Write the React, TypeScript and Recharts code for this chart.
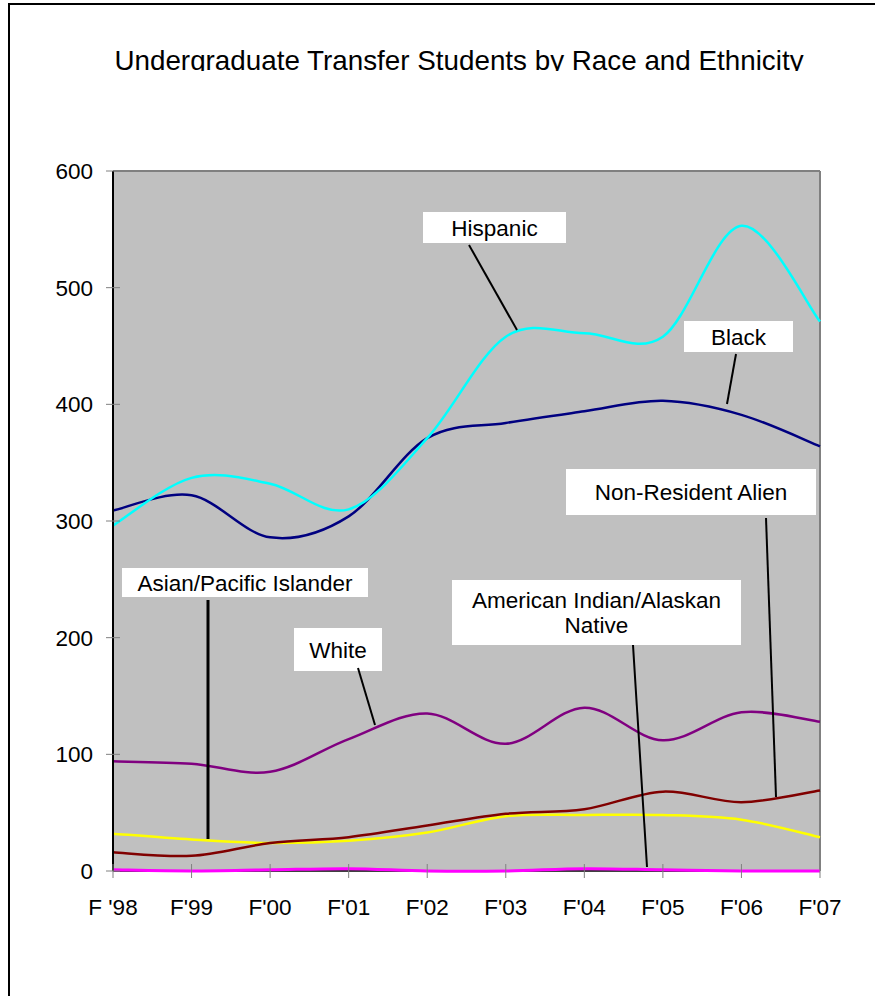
import React from 'react';
import { LineChart, Line, XAxis, YAxis, CartesianGrid, ReferenceLine } from 'recharts';

const years = ["F '98", "F'99", "F'00", "F'01", "F'02", "F'03", "F'04", "F'05", "F'06", "F'07"];
const hispanic = [296, 337, 332, 310, 371, 458, 461, 458, 553, 471];
const black = [309, 322, 286, 304, 371, 384, 394, 403, 391, 364];
const white = [94, 92, 85, 113, 135, 109, 140, 112, 136, 128];
const nonResidentAlien = [16, 13, 24, 29, 39, 49, 53, 68, 59, 69];
const asianPacific = [32, 27, 24, 26, 33, 47, 48, 48, 44, 29];
const americanIndian = [1, 0, 1, 2, 0, 0, 2, 1, 0, 0];
const yTicks = [0, 100, 200, 300, 400, 500, 600];

const data = years.map((y, i) => ({
  year: y,
  hispanic: hispanic[i],
  black: black[i],
  white: white[i],
  nra: nonResidentAlien[i],
  asian: asianPacific[i],
  amind: americanIndian[i],
}));

const FONT = '"Liberation Sans", Arial, sans-serif';

// Excel-like smoothed line (Catmull-Rom through the points)
function excelCurve(context: any) {
  let pts: number[][] = [];
  return {
    areaStart() {},
    areaEnd() {},
    lineStart() {
      pts = [];
    },
    lineEnd() {
      if (pts.length === 0) return;
      context.moveTo(pts[0][0], pts[0][1]);
      for (let i = 0; i < pts.length - 1; i++) {
        const p0 = pts[i - 1] || pts[i];
        const p1 = pts[i];
        const p2 = pts[i + 1];
        const p3 = pts[i + 2] || pts[i + 1];
        context.bezierCurveTo(
          p1[0] + (p2[0] - p0[0]) / 6,
          p1[1] + (p2[1] - p0[1]) / 6,
          p2[0] - (p3[0] - p1[0]) / 6,
          p2[1] - (p3[1] - p1[1]) / 6,
          p2[0],
          p2[1]
        );
      }
    },
    point(x: number, y: number) {
      pts.push([+x, +y]);
    },
  };
}

const XTick = (props: any) => {
  const { x, y, payload } = props;
  return (
    <g>
      <line x1={x} x2={x} y1={y - 7} y2={y + 7} stroke="#808080" strokeWidth={1} />
      <text x={x} y={y + 44} textAnchor="middle" fontSize={22.5} fontFamily={FONT} fill="#000">
        {payload.value}
      </text>
    </g>
  );
};

const YTick = (props: any) => {
  const { x, y, payload } = props;
  return (
    <g>
      <line x1={x - 7} x2={x + 7} y1={y} y2={y} stroke="#808080" strokeWidth={1} />
      <text x={x - 20} y={y + 8} textAnchor="end" fontSize={22.5} fontFamily={FONT} fill="#000">
        {payload.value}
      </text>
    </g>
  );
};

type Callout = {
  lines: string[];
  box: [number, number, number, number];
  leader: [number, number, number, number];
  lw: number;
};

const callouts: Callout[] = [
  { lines: ['Hispanic'], box: [423, 212, 143, 31], leader: [469, 245, 517, 330], lw: 2 },
  { lines: ['Black'], box: [684, 321, 109, 31], leader: [736, 354, 727, 404], lw: 2 },
  { lines: ['Non-Resident Alien'], box: [566, 469, 250, 46], leader: [766, 518, 776, 797], lw: 2 },
  { lines: ['Asian/Pacific Islander'], box: [122, 568, 246, 29], leader: [208, 600, 208, 839], lw: 3 },
  { lines: ['White'], box: [294, 628, 88, 43], leader: [358, 668, 375, 725], lw: 2 },
  { lines: ['American Indian/Alaskan', 'Native'], box: [452, 580, 289, 65], leader: [633, 645, 647, 867], lw: 2 },
];

export default function App() {
  return (
    <div style={{ position: 'absolute', left: 0, top: 0, width: 875, height: 996, overflow: 'hidden', background: '#fff' }}>
      <div
        style={{
          position: 'absolute',
          left: 8,
          top: 3,
          width: 1000,
          height: 1100,
          borderLeft: '2px solid #000',
          borderTop: '2px solid #000',
        }}
      />
      <svg style={{ position: 'absolute', left: 0, top: 0 }} width={875} height={71}>
        <text x={459} y={69.5} textAnchor="middle" fontSize={27.8} fontFamily={FONT} fill="#000">
          Undergraduate Transfer Students by Race and Ethnicity
        </text>
      </svg>
      <div style={{ position: 'absolute', left: 0, top: 0 }}>
        <LineChart width={875} height={996} data={data} margin={{ top: 171, right: 55, bottom: 85, left: 53 }}>
          <CartesianGrid
            fill="#C0C0C0"
            stroke="#000"
            strokeWidth={1.5}
            horizontalValues={[0]}
            vertical={false}
          />
          <ReferenceLine y={600} stroke="#808080" strokeWidth={2} />
          <ReferenceLine x="F'07" stroke="#808080" strokeWidth={2} />
          <XAxis
            dataKey="year"
            height={40}
            padding={{ left: 0, right: 0 }}
            tickSize={0}
            tickMargin={0}
            tickLine={false}
            axisLine={false}
            tick={<XTick />}
            interval={0}
          />
          <YAxis
            width={60}
            domain={[0, 600]}
            ticks={yTicks}
            tickSize={0}
            tickMargin={0}
            tickLine={false}
            axisLine={{ stroke: '#000', strokeWidth: 2 }}
            tick={<YTick />}
            interval={0}
          />
          <Line dataKey="black" stroke="#000080" strokeWidth={2.5} dot={false} type={excelCurve as any} isAnimationActive={false} />
          <Line dataKey="hispanic" stroke="#00FFFF" strokeWidth={2.5} dot={false} type={excelCurve as any} isAnimationActive={false} />
          <Line dataKey="white" stroke="#800080" strokeWidth={2.5} dot={false} type={excelCurve as any} isAnimationActive={false} />
          <Line dataKey="asian" stroke="#FFFF00" strokeWidth={2.5} dot={false} type={excelCurve as any} isAnimationActive={false} />
          <Line dataKey="nra" stroke="#800000" strokeWidth={2.5} dot={false} type={excelCurve as any} isAnimationActive={false} />
          <Line dataKey="amind" stroke="#FF00FF" strokeWidth={3} dot={false} type={excelCurve as any} isAnimationActive={false} />
        </LineChart>
      </div>
      <svg style={{ position: 'absolute', left: 0, top: 0, pointerEvents: 'none' }} width={875} height={996}>
        {callouts.map((c, i) => {
          const [bx, by, bw, bh] = c.box;
          const [x1, y1, x2, y2] = c.leader;
          const cx = bx + bw / 2;
          const lineH = 25;
          const startY = by + bh / 2 - ((c.lines.length - 1) * lineH) / 2;
          return (
            <g key={i}>
              <rect x={bx} y={by} width={bw} height={bh} fill="#fff" />
              {c.lines.map((t, j) => (
                <text
                  key={j}
                  x={cx}
                  y={startY + j * lineH + 8}
                  textAnchor="middle"
                  fontSize={22.5}
                  fontFamily={FONT}
                  fill="#000"
                >
                  {t}
                </text>
              ))}
              <line x1={x1} y1={y1} x2={x2} y2={y2} stroke="#000" strokeWidth={c.lw} />
            </g>
          );
        })}
      </svg>
    </div>
  );
}
